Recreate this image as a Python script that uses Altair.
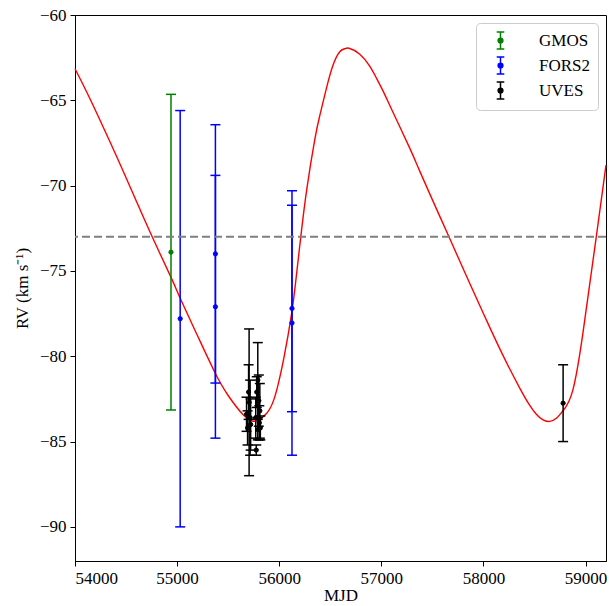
import altair as alt
import pandas as pd

# ---- data ----
gmos_mjd = [54940]
gmos_rv = [-73.9]
gmos_err = [9.25]

fors2_mjd = [55030, 55375, 55375, 56125, 56125]
fors2_rv = [-77.8, -74.0, -77.1, -77.2, -78.05]
fors2_err = [12.2, 7.57, 7.7, 6.05, 7.75]

uves_mjd = [55705, 55690, 55715, 55700, 55680, 55720, 55790, 55780, 55800,
            55810, 55770, 55815, 55790, 55775, 55805, 58780]
uves_rv = [-82.7, -84.2, -83.6, -82.1, -83.4, -84.0, -81.4, -82.1, -82.6,
           -83.2, -83.6, -84.2, -84.3, -85.5, -83.9, -82.75]
uves_err = [4.3, 1.0, 2.2, 1.6, 1.0, 1.5, 2.2, 0.9, 1.5,
            1.6, 1.2, 0.7, 0.6, 0.3, 1.0, 2.25]

model_mjd = [54000, 54150, 54340, 54457, 54600, 54756, 54946, 55030, 55200, 55370,
             55500, 55647, 55720, 55770, 55860, 55950, 56047, 56120, 56160, 56211,
             56270, 56348, 56397, 56462, 56527, 56593, 56640, 56684, 56789, 56886,
             56952, 57016, 57114, 57278, 57376, 57520, 57662, 57865, 58028, 58191,
             58354, 58450, 58518, 58580, 58648, 58720, 58778, 58876, 58974, 59040,
             59105, 59200]
model_rv = [-63.15, -64.95, -67.4, -68.95, -70.9, -73.0, -75.45, -76.6, -78.8, -80.95,
            -82.3, -83.43, -83.75, -83.8, -83.45, -82.5, -80.05, -77.55, -75.7, -73.0,
            -70.2, -67.3, -65.9, -64.3, -62.93, -62.15, -61.98, -61.95, -62.3, -63.0,
            -63.7, -64.45, -65.7, -67.8, -69.15, -71.1, -73.0, -75.72, -77.87, -79.95,
            -81.85, -82.85, -83.4, -83.72, -83.82, -83.6, -83.2, -81.97, -78.65, -75.8,
            -72.99, -68.8]

gamma = -73.0

instruments = ["GMOS", "FORS2", "UVES"]
inst_colors = ["#008000", "#0000ff", "#000000"]

x_ticks = [54000, 55000, 56000, 57000, 58000, 59000]
y_ticks = [-60, -65, -70, -75, -80, -85, -90]

# ---- tables ----
obs = pd.concat([
    pd.DataFrame({"inst": "GMOS", "mjd": gmos_mjd, "rv": gmos_rv, "err": gmos_err}),
    pd.DataFrame({"inst": "FORS2", "mjd": fors2_mjd, "rv": fors2_rv, "err": fors2_err}),
    pd.DataFrame({"inst": "UVES", "mjd": uves_mjd, "rv": uves_rv, "err": uves_err}),
], ignore_index=True)
model = pd.DataFrame({"mjd": model_mjd, "rv": model_rv})

FONT = "Liberation Serif"

xscale = alt.Scale(domain=[54000, 59200], nice=False, zero=False)
yscale = alt.Scale(domain=[-92, -60], nice=False, zero=False)

xaxis = alt.Axis(values=x_ticks, format="d", title="MJD", grid=False)
yaxis = alt.Axis(values=y_ticks, format="d", title="RV (km s⁻¹)", grid=False)

X = alt.X("mjd:Q", scale=xscale, axis=xaxis)
cscale = alt.Scale(domain=instruments, range=inst_colors)

sym = ("M0,-0.9V0.9M-0.4,-0.9H0.4M-0.4,0.9H0.4"
       "M0.25,0A0.25,0.25,0,1,1,-0.25,0A0.25,0.25,0,1,1,0.25,0Z")

legend = alt.Legend(
    title=None, orient="top-right", offset=8, padding=7,
    fillColor="white", strokeColor="#cccccc", cornerRadius=4,
    labelFont=FONT, labelFontSize=17, labelColor="black", labelOffset=28,
    symbolType=sym, symbolSize=361, symbolStrokeWidth=1.5, rowPadding=0,
    symbolOffset=7, symbolOpacity=1,
)
F = alt.Fill("inst:N", scale=cscale, legend=legend)
S = alt.Stroke("inst:N", scale=cscale, legend=legend)

curve = alt.Chart(model).mark_line(color="#ff0000", strokeWidth=1.4, interpolate="natural").encode(
    x=X, y=alt.Y("rv:Q", scale=yscale, axis=yaxis)
)

base = alt.Chart(obs).transform_calculate(lo="datum.rv - datum.err", hi="datum.rv + datum.err")

bars = base.mark_rule(strokeWidth=1.5).encode(
    x=X, y=alt.Y("lo:Q", scale=yscale, axis=yaxis), y2="hi:Q", stroke=S,
)
cap_lo = base.mark_tick(orient="horizontal", size=10, thickness=1.5, opacity=1).encode(
    x=X, y=alt.Y("lo:Q", scale=yscale, axis=yaxis), fill=F,
)
cap_hi = base.mark_tick(orient="horizontal", size=10, thickness=1.5, opacity=1).encode(
    x=X, y=alt.Y("hi:Q", scale=yscale, axis=yaxis), fill=F,
)
points = base.mark_circle(size=18, opacity=1, strokeWidth=1).encode(
    x=X, y=alt.Y("rv:Q", scale=yscale, axis=yaxis), fill=F, stroke=S,
)

dashed = alt.Chart(pd.DataFrame({"g": [gamma]})).mark_rule(
    color="#808080", strokeWidth=2, strokeDash=[8, 4]
).encode(y=alt.Y("g:Q", scale=yscale, axis=yaxis))

chart = alt.layer(curve, bars, cap_lo, cap_hi, points, dashed).properties(
    width=531, height=546,
    autosize=alt.AutoSizeParams(type="none"),
    padding={"left": 75, "top": 15, "right": 3, "bottom": 45},
).configure_view(
    stroke="black", strokeWidth=1
).configure_axis(
    labelFont=FONT, titleFont=FONT, labelFontSize=17, titleFontSize=17,
    titleFontWeight="normal", labelColor="black", titleColor="black",
    domainColor="black", tickColor="black", tickSize=5, labelPadding=4,
).configure_axisY(titlePadding=8).configure_axisX(titlePadding=1)

chart.save("out.html", embed_options={"renderer": "svg", "actions": False})
